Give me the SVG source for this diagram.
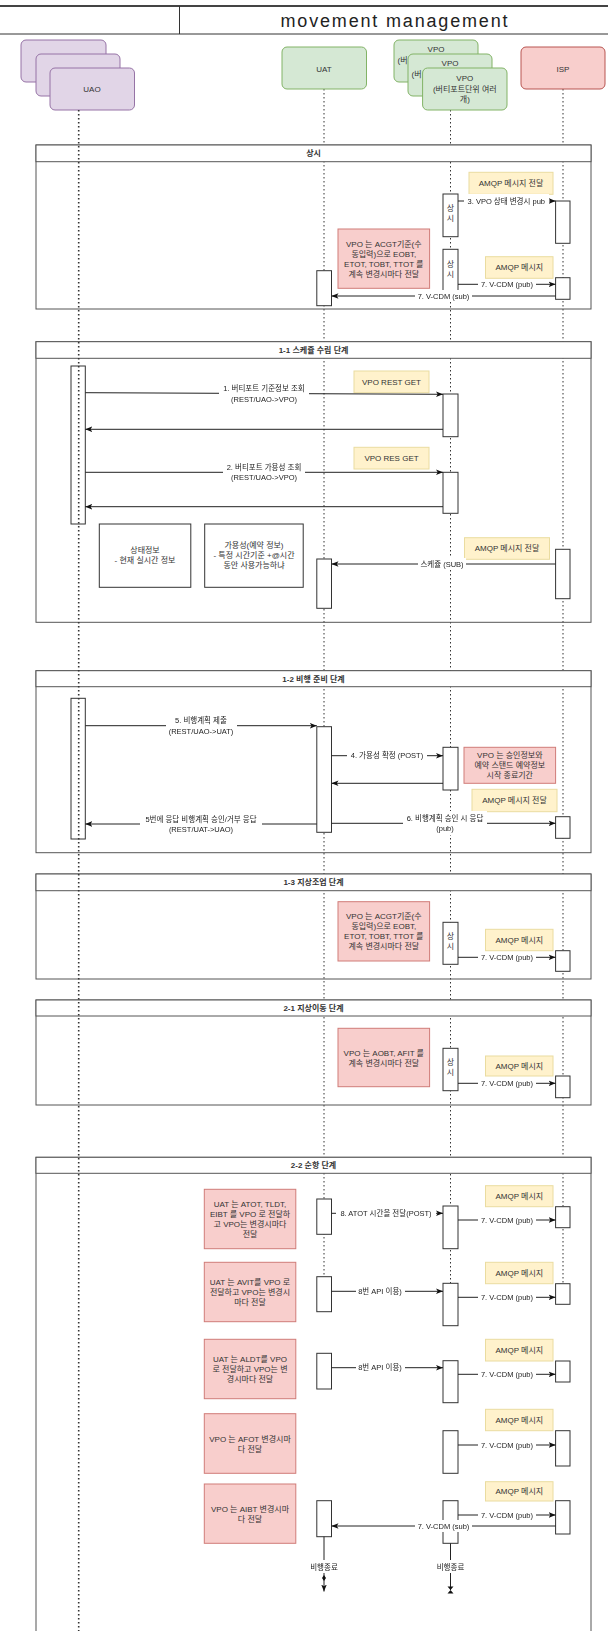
<svg xmlns="http://www.w3.org/2000/svg" width="608" height="1631" viewBox="0 0 608 1631">
<style>
text{font-family:"Liberation Sans","Noto Sans CJK KR",sans-serif;fill:#333;text-anchor:middle}
.t8{font-size:8px}
.tb{font-size:8px;font-weight:bold}
.lb{font-size:7.5px;fill:#222;filter:url(#wb)}
.frame{fill:none;stroke:#555;stroke-width:1}
.fh{fill:#fff;stroke:#555;stroke-width:1}
.act{fill:#fff;stroke:#333;stroke-width:1}
.life{fill:none;stroke:#333;stroke-width:1;stroke-dasharray:1.5 2.5}
.msg{fill:none;stroke:#222;stroke-width:1;marker-end:url(#ah)}
.yel{fill:#fff2cc;stroke:#eadca0;stroke-width:1}
.red{fill:#f8cecc;stroke:#d07c78;stroke-width:1}
.box{fill:#fff;stroke:#333;stroke-width:1}
.uao{fill:#e1d5e7;stroke:#9673a6;stroke-width:1}
.grn{fill:#d5e8d4;stroke:#82b366;stroke-width:1}
.isp{fill:#f8cecc;stroke:#b85450;stroke-width:1}
</style>
<defs>
<marker id="ah" viewBox="0 0 10 10" refX="10" refY="5" markerWidth="7" markerHeight="7" markerUnits="userSpaceOnUse" orient="auto">
<path d="M0,1 L10,5 L0,9 L2.5,5 Z" fill="#111"/>
</marker>
<filter id="wb" x="-0.04" y="-0.08" width="1.08" height="1.16" color-interpolation-filters="sRGB">
<feFlood flood-color="#ffffff" result="f"/>
<feMerge><feMergeNode in="f"/><feMergeNode in="SourceGraphic"/></feMerge>
</filter>
</defs>
<rect width="608" height="1631" fill="#fff"/>

<g id="header">
<line x1="0" y1="6" x2="608" y2="6" stroke="#444" stroke-width="2"/>
<line x1="0" y1="34" x2="608" y2="34" stroke="#333" stroke-width="1"/>
<line x1="179.5" y1="6" x2="179.5" y2="34" stroke="#333" stroke-width="1"/>
<text x="394" y="27" style="font-size:18px;fill:#222" textLength="227" lengthAdjust="spacing">movement management</text>
</g>

<g id="lifelines">
<line class="life" x1="324" y1="89" x2="324" y2="1277"/>
<line class="life" x1="450.5" y1="110" x2="450.5" y2="1283"/>
<line class="life" x1="563" y1="89" x2="563" y2="1284"/>
</g>

<g id="frame-sangsi">
<rect class="frame" x="36" y="145" width="555" height="164"/>
<rect class="fh" x="36" y="145" width="555" height="16.7"/>
<text class="tb" x="313.5" y="156.3">상시</text>
</g>
<g id="frame-1-1">
<rect class="frame" x="36" y="341.7" width="555" height="280.6"/>
<rect class="fh" x="36" y="341.7" width="555" height="16.6"/>
<text class="tb" x="313.5" y="353">1-1 스케쥴 수립 단계</text>
</g>
<g id="frame-1-2">
<rect class="frame" x="36" y="670.7" width="555" height="182"/>
<rect class="fh" x="36" y="670.7" width="555" height="16"/>
<text class="tb" x="313.5" y="681.7">1-2 비행 준비 단계</text>
</g>
<g id="frame-1-3">
<rect class="frame" x="36" y="874" width="555" height="105"/>
<rect class="fh" x="36" y="874" width="555" height="16.7"/>
<text class="tb" x="313.5" y="885.3">1-3 지상조업 단계</text>
</g>
<g id="frame-2-1">
<rect class="frame" x="36" y="1000" width="555" height="105"/>
<rect class="fh" x="36" y="1000" width="555" height="16"/>
<text class="tb" x="313.5" y="1011">2-1 지상이동 단계</text>
</g>
<g id="frame-2-2">
<rect class="frame" x="36" y="1157.3" width="555" height="490"/>
<rect class="fh" x="36" y="1157.3" width="555" height="16"/>
<text class="tb" x="313.5" y="1168.3">2-2 순항 단계</text>
</g>

<g id="participant-UAO">
<rect class="uao" x="21" y="40" width="85" height="42" rx="5"/>
<rect class="uao" x="36" y="54" width="84" height="42" rx="5"/>
<rect class="uao" x="50" y="68" width="84.5" height="42" rx="5"/>
<text class="t8" x="92" y="92">UAO</text>
</g>
<g id="participant-UAT">
<rect class="grn" x="282" y="47" width="84.5" height="42" rx="5"/>
<text class="t8" x="324" y="71.5">UAT</text>
</g>
<g id="participant-VPO">
<rect class="grn" x="394" y="40" width="84" height="42" rx="5"/>
<text class="t8" x="436" y="52">VPO</text>
<text class="t8" x="397.5" y="63" style="text-anchor:start">(버</text>
<rect class="grn" x="408" y="54" width="84" height="42" rx="5"/>
<text class="t8" x="450" y="66">VPO</text>
<text class="t8" x="411.5" y="77" style="text-anchor:start">(버</text>
<rect class="grn" x="422.6" y="68" width="84.4" height="42" rx="5"/>
<text class="t8" x="464.8" y="81">VPO<tspan x="464.8" dy="10.5">(버티포트단위 여러</tspan><tspan x="464.8" dy="10.5">개)</tspan></text>
</g>
<g id="participant-ISP">
<rect class="isp" x="521" y="47" width="84" height="42" rx="5"/>
<text class="t8" x="563" y="71.5">ISP</text>
</g>

<g id="notes">
<rect class="yel" x="469" y="172.3" width="84" height="22"/><text class="t8" x="511" y="186">AMQP 메시지 전달</text>
<rect class="yel" x="485.5" y="256.7" width="67.5" height="21.6"/><text class="t8" x="519.3" y="270.3">AMQP 메시지</text>
<rect class="yel" x="354" y="371" width="75" height="21.7"/><text class="t8" x="391.5" y="384.7">VPO REST GET</text>
<rect class="yel" x="354" y="447.3" width="75" height="21.7"/><text class="t8" x="391.5" y="461">VPO RES GET</text>
<rect class="yel" x="464.5" y="537.7" width="85" height="21.6"/><text class="t8" x="507" y="551.3">AMQP 메시지 전달</text>
<rect class="yel" x="472" y="789.3" width="85" height="22.4"/><text class="t8" x="514.5" y="803.3">AMQP 메시지 전달</text>
<rect class="yel" x="485.5" y="929.3" width="67.5" height="21.4"/><text class="t8" x="519.3" y="942.8">AMQP 메시지</text>
<rect class="yel" x="485.5" y="1056" width="67.5" height="20"/><text class="t8" x="519.3" y="1068.8">AMQP 메시지</text>
<rect class="yel" x="485.5" y="1185.7" width="67.5" height="21"/><text class="t8" x="519.3" y="1199">AMQP 메시지</text>
<rect class="yel" x="485.5" y="1262.3" width="67.5" height="21.4"/><text class="t8" x="519.3" y="1275.8">AMQP 메시지</text>
<rect class="yel" x="485.5" y="1339.3" width="67.5" height="21.7"/><text class="t8" x="519.3" y="1353">AMQP 메시지</text>
<rect class="yel" x="485.5" y="1409.3" width="67.5" height="21.4"/><text class="t8" x="519.3" y="1422.8">AMQP 메시지</text>
<rect class="yel" x="485.5" y="1481.7" width="67.5" height="19.3"/><text class="t8" x="519.3" y="1494.2">AMQP 메시지</text>

<rect class="red" x="338" y="229" width="91.6" height="59.3"/>
<text class="t8" x="383.8" y="246.6">VPO 는 ACGT기준(수<tspan x="383.8" dy="10">동입력)으로 EOBT,</tspan><tspan x="383.8" dy="10">ETOT, TOBT, TTOT 를</tspan><tspan x="383.8" dy="10">계속 변경시마다 전달</tspan></text>
<rect class="red" x="464" y="747.3" width="91.6" height="36"/>
<text class="t8" x="509.8" y="758.3">VPO 는 승인정보와<tspan x="509.8" dy="10">예약 스탠드 예약정보</tspan><tspan x="509.8" dy="10">시작 종료기간</tspan></text>
<rect class="red" x="338" y="901.7" width="91.6" height="59.3"/>
<text class="t8" x="383.8" y="919.3">VPO 는 ACGT기준(수<tspan x="383.8" dy="10">동입력)으로 EOBT,</tspan><tspan x="383.8" dy="10">ETOT, TOBT, TTOT 를</tspan><tspan x="383.8" dy="10">계속 변경시마다 전달</tspan></text>
<rect class="red" x="338" y="1028.3" width="91.6" height="58.4"/>
<text class="t8" x="383.8" y="1055.5">VPO 는 AOBT, AFIT 를<tspan x="383.8" dy="10">계속 변경시마다 전달</tspan></text>
<rect class="red" x="204.3" y="1189.3" width="91.5" height="59.4"/>
<text class="t8" x="250" y="1206.9">UAT 는 ATOT, TLDT,<tspan x="250" dy="10">EIBT 를 VPO 로 전달하</tspan><tspan x="250" dy="10">고 VPO는 변경시마다</tspan><tspan x="250" dy="10">전달</tspan></text>
<rect class="red" x="204.3" y="1262.3" width="91.5" height="59.4"/>
<text class="t8" x="250" y="1284.9">UAT 는 AVIT를 VPO 로<tspan x="250" dy="10">전달하고 VPO는 변경시</tspan><tspan x="250" dy="10">마다 전달</tspan></text>
<rect class="red" x="204.3" y="1339.3" width="91.5" height="59.4"/>
<text class="t8" x="250" y="1361.9">UAT 는 ALDT를 VPO<tspan x="250" dy="10">로 전달하고 VPO는 변</tspan><tspan x="250" dy="10">경시마다 전달</tspan></text>
<rect class="red" x="204.3" y="1413.7" width="91.5" height="59.6"/>
<text class="t8" x="250" y="1441.5">VPO 는 AFOT 변경시마<tspan x="250" dy="10">다 전달</tspan></text>
<rect class="red" x="204.3" y="1484" width="91.5" height="59.3"/>
<text class="t8" x="250" y="1511.7">VPO 는 AIBT 변경시마<tspan x="250" dy="10">다 전달</tspan></text>

<rect class="box" x="99.3" y="524" width="91.5" height="63.3"/>
<text class="t8" x="145" y="553">상태정보<tspan x="145" dy="10">- 현재 실시간 정보</tspan></text>
<rect class="box" x="204.7" y="524" width="98.5" height="63.3"/>
<text class="t8" x="254" y="547.5">가용성(예약 정보)<tspan x="254" dy="10">- 특정 시간기준 +@시간</tspan><tspan x="254" dy="10">동안 사용가능하냐</tspan></text>
</g>

<g id="activations">
<rect class="act" x="443" y="194" width="15" height="42.7"/><text class="t8" x="450.5" y="211">상<tspan x="450.5" dy="10">시</tspan></text>
<rect class="act" x="443" y="249.3" width="15" height="43.7"/><text class="t8" x="450.5" y="266.5">상<tspan x="450.5" dy="10">시</tspan></text>
<rect class="act" x="443" y="394" width="15" height="42.7"/>
<rect class="act" x="443" y="472.3" width="15" height="41"/>
<rect class="act" x="443" y="747.3" width="15" height="42.7"/>
<rect class="act" x="443" y="922.3" width="15" height="42"/><text class="t8" x="450.5" y="939">상<tspan x="450.5" dy="10">시</tspan></text>
<rect class="act" x="443" y="1048.3" width="15" height="42.4"/><text class="t8" x="450.5" y="1065">상<tspan x="450.5" dy="10">시</tspan></text>
<rect class="act" x="443" y="1206" width="15" height="42.7"/>
<rect class="act" x="443" y="1283.3" width="15" height="42.4"/>
<rect class="act" x="443" y="1360.7" width="15" height="42"/>
<rect class="act" x="443" y="1430.7" width="15" height="42.6"/>
<rect class="act" x="443" y="1500.7" width="15" height="42.6"/>

<rect class="act" x="555.6" y="201" width="14.4" height="42.3"/>
<rect class="act" x="555.6" y="277.7" width="14.4" height="21.6"/>
<rect class="act" x="555.6" y="549.3" width="14.4" height="49.4"/>
<rect class="act" x="555.6" y="816.7" width="14.4" height="21.6"/>
<rect class="act" x="555.6" y="950.7" width="14.4" height="20.6"/>
<rect class="act" x="555.6" y="1076" width="14.4" height="21.7"/>
<rect class="act" x="555.6" y="1206.7" width="14.4" height="21"/>
<rect class="act" x="555.6" y="1283.7" width="14.4" height="20.6"/>
<rect class="act" x="555.6" y="1361" width="14.4" height="21"/>
<rect class="act" x="555.6" y="1430.7" width="14.4" height="35.3"/>
<rect class="act" x="555.6" y="1500.7" width="14.4" height="33.3"/>

<rect class="act" x="316.8" y="270.7" width="14.7" height="35"/>
<rect class="act" x="316.8" y="559" width="14.7" height="49.3"/>
<rect class="act" x="316.8" y="726.7" width="14.7" height="105.6"/>
<rect class="act" x="316.8" y="1199" width="14.7" height="35.3"/>
<rect class="act" x="316.8" y="1276.7" width="14.7" height="35"/>
<rect class="act" x="316.8" y="1353.3" width="14.7" height="35.7"/>
<rect class="act" x="316.8" y="1500.7" width="14.7" height="36"/>

<rect class="act" x="71" y="366" width="14.3" height="158"/>
<rect class="act" x="71" y="698.3" width="14.3" height="140.7"/>
</g>

<g id="lifeline-UAO">
<line class="life" x1="78.7" y1="110" x2="78.7" y2="1631" style="stroke-width:1.6"/>
</g>

<g id="connectors">
<line class="msg" x1="458" y1="201" x2="555.6" y2="201"/>
<text class="lb" x="506.3" y="203.6">3. VPO 상태 변경시 pub</text>
<line class="msg" x1="458" y1="284.3" x2="555.6" y2="284.3"/>
<text class="lb" x="507" y="287">7. V-CDM (pub)</text>
<line class="msg" x1="555.6" y1="296" x2="331.5" y2="296"/>
<text class="lb" x="443.5" y="298.6">7. V-CDM (sub)</text>

<line class="msg" x1="85.3" y1="392.7" x2="443" y2="394.3"/>
<text class="lb" x="264" y="391.3">1. 버티포트 기준정보 조회<tspan x="264" dy="10.5">(REST/UAO-&gt;VPO)</tspan></text>
<line class="msg" x1="443" y1="429.3" x2="85.3" y2="429.3"/>
<line class="msg" x1="85.3" y1="472.3" x2="443" y2="472.3"/>
<text class="lb" x="264" y="469.8">2. 버티포트 가용성 조회<tspan x="264" dy="10.5">(REST/UAO-&gt;VPO)</tspan></text>
<line class="msg" x1="443" y1="506.7" x2="85.3" y2="506.7"/>
<line class="msg" x1="555.6" y1="564" x2="331.5" y2="564"/>
<text class="lb" x="442" y="566.6">스케쥴 (SUB)</text>

<line class="msg" x1="85.3" y1="725.7" x2="316.8" y2="725.7"/>
<text class="lb" x="201" y="723.2">5. 비행계획 제출<tspan x="201" dy="10.5">(REST/UAO-&gt;UAT)</tspan></text>
<line class="msg" x1="331.5" y1="755.7" x2="443" y2="755.7"/>
<text class="lb" x="387" y="758.3">4. 가용성 확정 (POST)</text>
<line class="msg" x1="443" y1="783.3" x2="331.5" y2="783.3"/>
<line class="msg" x1="316.8" y1="824" x2="85.3" y2="824"/>
<text class="lb" x="201" y="821.5">5번에 응답 비행계획 승인/거부 응답<tspan x="201" dy="10.5">(REST/UAT-&gt;UAO)</tspan></text>
<line class="msg" x1="331.5" y1="823.3" x2="555.6" y2="823.3"/>
<text class="lb" x="445" y="820.8">6. 비행계획 승인 시 응답<tspan x="445" dy="10.5">(pub)</tspan></text>

<line class="msg" x1="458" y1="957.3" x2="555.6" y2="957.3"/>
<text class="lb" x="507" y="960">7. V-CDM (pub)</text>
<line class="msg" x1="458" y1="1083.3" x2="555.6" y2="1083.3"/>
<text class="lb" x="507" y="1086">7. V-CDM (pub)</text>

<line class="msg" x1="331.5" y1="1213.3" x2="443" y2="1213.3"/>
<text class="lb" x="386" y="1216">8. ATOT 시간을 전달(POST)</text>
<line class="msg" x1="458" y1="1220" x2="555.6" y2="1220"/>
<text class="lb" x="507" y="1222.7">7. V-CDM (pub)</text>
<line class="msg" x1="331.5" y1="1291.3" x2="443" y2="1291.3"/>
<text class="lb" x="380" y="1294">8번 API 이용)</text>
<line class="msg" x1="458" y1="1297.3" x2="555.6" y2="1297.3"/>
<text class="lb" x="507" y="1300">7. V-CDM (pub)</text>
<line class="msg" x1="331.5" y1="1367.7" x2="443" y2="1367.7"/>
<text class="lb" x="380" y="1370.4">8번 API 이용)</text>
<line class="msg" x1="458" y1="1374.3" x2="555.6" y2="1374.3"/>
<text class="lb" x="507" y="1377">7. V-CDM (pub)</text>
<line class="msg" x1="458" y1="1445" x2="555.6" y2="1445"/>
<text class="lb" x="507" y="1447.7">7. V-CDM (pub)</text>
<line class="msg" x1="458" y1="1515" x2="555.6" y2="1515"/>
<text class="lb" x="507" y="1517.7">7. V-CDM (pub)</text>
<line class="msg" x1="555.6" y1="1526" x2="331.5" y2="1526"/>
<text class="lb" x="443.5" y="1528.6">7. V-CDM (sub)</text>

<line class="msg" x1="324" y1="1536.7" x2="324" y2="1591.5"/>
<path d="M324,1575 L326,1578 L324,1581 L322,1578 Z" fill="#111"/>
<text class="lb" x="324" y="1569.5">비행종료</text>
<line x1="450.5" y1="1543.3" x2="450.5" y2="1590" stroke="#222" stroke-width="1"/>
<path d="M447.5,1586.5 L453.5,1586.5 L450.5,1590 Z M447.5,1593.5 L453.5,1593.5 L450.5,1590 Z" fill="#111"/>
<text class="lb" x="450.5" y="1569.5">비행종료</text>
</g>
</svg>
